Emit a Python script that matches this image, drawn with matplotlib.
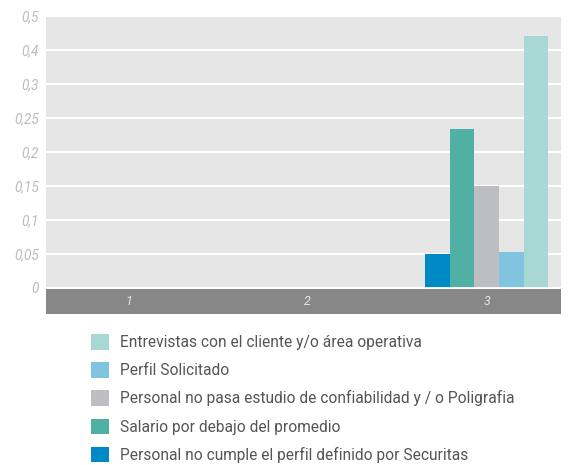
import numpy as np
import matplotlib.pyplot as plt
from matplotlib.patches import Rectangle

# categories and series (bars left to right inside each group)
categorias = ['1', '2', '3']
series = ['Personal no cumple el perfil definido por Securitas',
          'Salario por debajo del promedio',
          'Personal no pasa estudio de confiabilidad y / o Poligrafia',
          'Perfil Solicitado',
          'Entrevistas con el cliente y/o área operativa']
valores = [[0, 0, 0.05],
           [0, 0, 0.234],
           [0, 0, 0.15],
           [0, 0, 0.052],
           [0, 0, 0.37]]
colores = ['#008ac5', '#50b0a4', '#bdbec2', '#80c4e0', '#a7d8d4']

# y ticks as printed on the axis
yticks = [0, 0.05, 0.1, 0.15, 0.2, 0.25, 0.3, 0.35, 0.4]
ylabels = ['0', '0,05', '0,1', '0,15', '0,2', '0,25', '0,3', '0,4', '0,5']

plt.rcParams['font.family'] = ['Roboto', 'DejaVu Sans']

fig = plt.figure(figsize=(5.69, 4.65), dpi=100)
W, H = 569, 465
ax = fig.add_axes([46 / W, (H - 287.5) / H, (561 - 46) / W, (287.5 - 16) / H])
ax.set_facecolor('#e5e6e5')

x = np.arange(len(categorias))
ancho = 0.138
for k, (nombre, vals, c) in enumerate(zip(series, valores, colores)):
    ax.bar(x + (k - 2) * ancho, vals, ancho, color=c, label=nombre,
           zorder=3, linewidth=0)

ax.set_xlim(-0.464, 2.416)
ax.set_ylim(0, 0.4)
ax.set_yticks(yticks)
ax.set_yticklabels(ylabels)
for t in ax.get_yticklabels():
    t.set_fontstyle('italic')
    t.set_color('#bcbcbc')
    t.set_fontsize(9.8)
ax.tick_params(axis='y', length=0, pad=5)
ax.grid(axis='y', color='white', linewidth=1.5, zorder=2)
ax.axhline(0, color='white', linewidth=2, zorder=4)
for s in ax.spines.values():
    s.set_visible(False)

# grey band holding the category labels
ax.set_xticks([])
banda = Rectangle((46 / W, (H - 314) / H), (561 - 46) / W, 25 / H,
                  transform=fig.transFigure, facecolor='#868786',
                  edgecolor='none')
fig.patches.append(banda)
for xi, cat in zip(x, categorias):
    fig.text(ax.transData.transform((xi, 0))[0] / W, (H - 301.5) / H, cat,
             ha='center', va='center', color='#e6e6e6', fontsize=9,
             fontstyle='italic')

handles, labels = ax.get_legend_handles_labels()
leg = fig.legend(handles[::-1], labels[::-1], loc='upper left',
                 bbox_to_anchor=(85 / W, (H - 328) / H), frameon=False,
                 fontsize=11.2, handlelength=1.15, handleheight=1.15,
                 handletextpad=0.7, labelspacing=0.78, borderaxespad=0)
for t in leg.get_texts():
    t.set_color('#555555')

fig.savefig('out.png', dpi=100)
